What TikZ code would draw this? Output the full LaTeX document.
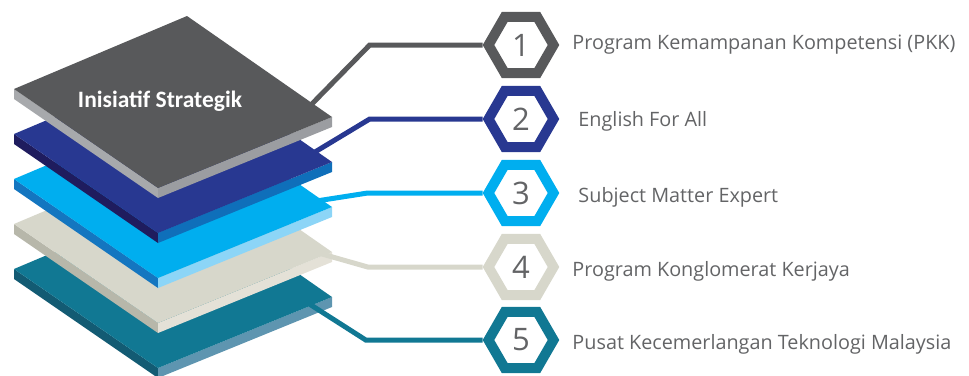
\documentclass[tikz,border=0pt]{standalone}
\usepackage{fontspec}
\setmainfont{Open Sans}
\newfontfamily\titlefont{Carlito}
\usetikzlibrary{shapes,positioning,calc}
\definecolor{slatetop}{HTML}{58595B}
\definecolor{slateleft}{HTML}{A7A9AC}
\definecolor{slateright}{HTML}{9B9DA1}
\definecolor{navytop}{HTML}{283891}
\definecolor{navyleft}{HTML}{1F1C5E}
\definecolor{navyright}{HTML}{0F6FBA}
\definecolor{skytop}{HTML}{00AEEF}
\definecolor{skyleft}{HTML}{1476C0}
\definecolor{skyright}{HTML}{8CD5F7}
\definecolor{sandtop}{HTML}{D7D7CB}
\definecolor{sandleft}{HTML}{B7B7AA}
\definecolor{sandright}{HTML}{E4E1D7}
\definecolor{tealtop}{HTML}{117893}
\definecolor{tealleft}{HTML}{135B73}
\definecolor{tealright}{HTML}{5E95B0}
\definecolor{textgray}{HTML}{636466}

\begin{document}
\begin{tikzpicture}[x=1pt,y=-1pt]
  \tikzstyle{hexa} = [regular polygon, regular polygon sides=6, draw, line width=10pt, fill=white, minimum size=65pt, inner sep=0pt, text=textgray, font=\fontsize{31}{31}\selectfont]
  \tikzstyle{itemtext} = [inner sep=0pt, text=textgray, font=\fontsize{19.8}{22}\selectfont]
  \tikzstyle{titletext} = [text=white, font=\titlefont\bfseries\fontsize{23.5}{25}\selectfont]
  \tikzstyle{connector} = [line width=5pt]

  \useasboundingbox (0,0) rectangle (969,375);

  \foreach \dy/\ctop/\cleft/\cright in {180/tealtop/tealleft/tealright, 135/sandtop/sandleft/sandright, 90/skytop/skyleft/skyright, 45/navytop/navyleft/navyright, 0/slatetop/slateleft/slateright}{
    \fill[\cleft] (14,89+\dy) -- (158,188+\dy) -- (158,198+\dy) -- (14,99+\dy) -- cycle;
    \fill[\cright] (158,188+\dy) -- (332,117+\dy) -- (332,127+\dy) -- (158,198+\dy) -- cycle;
    \fill[\ctop] (187,16+\dy) -- (332,117+\dy) -- (158,188+\dy) -- (14,89+\dy) -- cycle;
  }

  \node [titletext] (title) at (160,101) {Inisiatif Strategik};

  \coordinate (s1) at (305,111);
  \coordinate (s2) at (305,158);
  \coordinate (s3) at (310,202);
  \coordinate (s4) at (308,250);
  \coordinate (s5) at (300,298);

  \node [hexa, draw=slatetop] (hex1) at (521,45) {1};
  \node [hexa, draw=navytop] (hex2) at (521,119) {2};
  \node [hexa, draw=skytop] (hex3) at (521,193) {3};
  \node [hexa, draw=sandtop] (hex4) at (521,267) {4};
  \node [hexa, draw=tealtop] (hex5) at (521,340) {5};

  \node [itemtext, right=13pt of hex1] (pkk) {Program Kemampanan Kompetensi (PKK)};
  \node [itemtext, right=19pt of hex2, yshift=-2pt] (efa) {English For All};
  \node [itemtext, right=19pt of hex3, yshift=-4pt] (sme) {Subject Matter Expert};
  \node [itemtext, right=13pt of hex4, yshift=-4pt] (pkj) {Program Konglomerat Kerjaya};
  \node [itemtext, right=13pt of hex5, yshift=-4pt] (pktm) {Pusat Kecemerlangan Teknologi Malaysia};

  \draw [connector, slatetop] (s1) -- ([xshift=-113pt]hex1.west) -- (hex1.west);
  \draw [connector, navytop] (s2) -- ([xshift=-113pt]hex2.west) -- (hex2.west);
  \draw [connector, skytop] (s3) -- ([xshift=-115pt]hex3.west) -- (hex3.west);
  \draw [connector, sandtop] (s4) -- ([xshift=-115pt]hex4.west) -- (hex4.west);
  \draw [connector, tealtop] (s5) -- ([xshift=-117pt]hex5.west) -- (hex5.west);
\end{tikzpicture}
\end{document}
